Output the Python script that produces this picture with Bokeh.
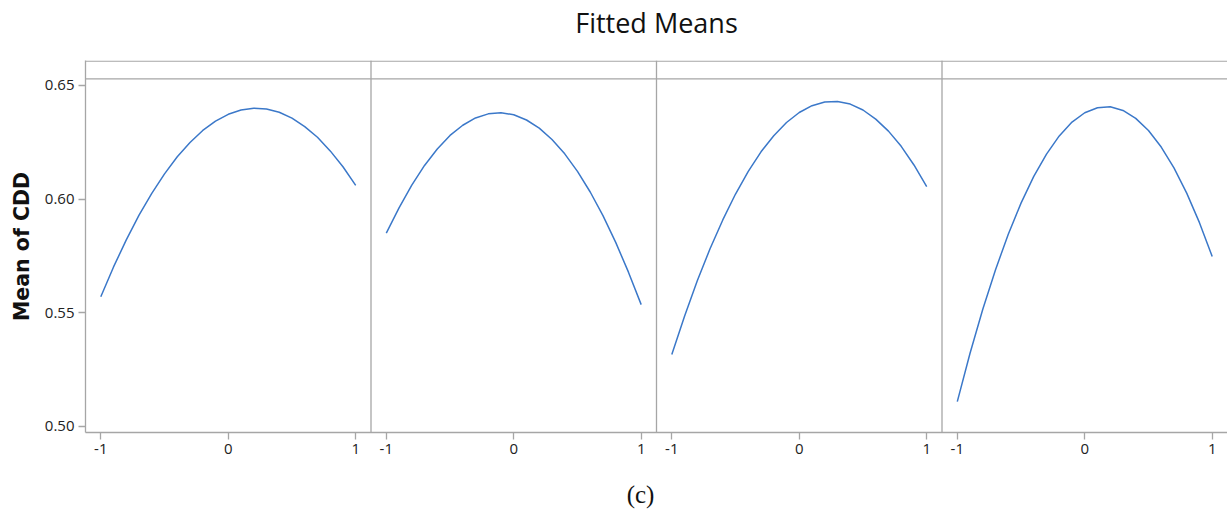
from bokeh.plotting import figure
from bokeh.layouts import column
from bokeh.models import Range1d, FixedTicker, Span, LinearAxis
from bokeh.core.properties import value
from bokeh.embed import file_html
from bokeh.resources import INLINE

# ---- data ----
x_levels = [-1.0, -0.9, -0.8, -0.7, -0.6, -0.5, -0.4, -0.3, -0.2, -0.1, 0.0,
            0.1, 0.2, 0.3, 0.4, 0.5, 0.6, 0.7, 0.8, 0.9, 1.0]
cdd_panel1 = [0.5570, 0.5701, 0.5820, 0.5929, 0.6025, 0.6111, 0.6186, 0.6249, 0.6302, 0.6343, 0.6373,
              0.6392, 0.6400, 0.6396, 0.6382, 0.6356, 0.6319, 0.6272, 0.6212, 0.6142, 0.6060]
cdd_panel2 = [0.5850, 0.5961, 0.6061, 0.6148, 0.6220, 0.6280, 0.6325, 0.6357, 0.6375, 0.6380, 0.6371,
              0.6348, 0.6312, 0.6262, 0.6199, 0.6122, 0.6031, 0.5927, 0.5809, 0.5678, 0.5535]
cdd_panel3 = [0.5315, 0.5484, 0.5640, 0.5781, 0.5908, 0.6022, 0.6122, 0.6208, 0.6279, 0.6337, 0.6381,
              0.6411, 0.6427, 0.6429, 0.6418, 0.6392, 0.6352, 0.6299, 0.6232, 0.6150, 0.6055]
cdd_panel4 = [0.5108, 0.5321, 0.5515, 0.5689, 0.5845, 0.5982, 0.6100, 0.6198, 0.6278, 0.6339, 0.6380,
              0.6402, 0.6406, 0.6390, 0.6355, 0.6302, 0.6229, 0.6137, 0.6026, 0.5896, 0.5747]
panels = [cdd_panel1, cdd_panel2, cdd_panel3, cdd_panel4]

x_tick_values = [-1, 0, 1]
x_tick_labels = ["-1", "0", "1"]
y_tick_values = [0.50, 0.55, 0.60, 0.65]
y_tick_labels = ["0.50", "0.55", "0.60", "0.65"]

title_text = "Fitted Means"
y_label = "Mean of CDD"
caption = "(c)"

# ---- layout ----
half = 1.12          # half width of one panel in x units
step = 2 * half      # panel spacing
grey = "#a6a6a6"
line_blue = "#3b78c9"
ui_font = "Open Sans"
x_lo, x_hi = -half, -half + 4 * step
y_lo, y_hi = 0.4972, 0.6610
px_per_x = 1142 / (x_hi - x_lo)
px_per_y = 372 / (y_hi - y_lo)

p = figure(width=1227, height=478, output_backend="svg", toolbar_location=None,
           x_range=Range1d(x_lo, x_hi),
           y_range=Range1d(y_lo, y_hi),
           min_border_left=85, min_border_right=0, min_border_top=60, min_border_bottom=46)
p.background_fill_color = "white"
p.border_fill_color = "white"
p.outline_line_color = None
p.xgrid.visible = False
p.ygrid.visible = False

# x axis: same -1, 0, 1 ticks repeated in each panel
ticks = []
overrides = {}
for i in range(4):
    off = i * step
    for v, lab in zip(x_tick_values, x_tick_labels):
        t = v + off
        ticks.append(t)
        overrides[t] = lab
p.xaxis.ticker = FixedTicker(ticks=ticks)
p.xaxis.major_label_overrides = overrides

p.yaxis.ticker = FixedTicker(ticks=y_tick_values)
p.yaxis.major_label_overrides = {v: l for v, l in zip(y_tick_values, y_tick_labels)}

for ax in (p.xaxis, p.yaxis):
    ax.axis_line_color = grey
    ax.axis_line_width = 1.3
    ax.major_tick_line_color = grey
    ax.major_tick_line_width = 1.3
    ax.major_tick_in = 0
    ax.major_tick_out = 7
    ax.minor_tick_line_color = None
    ax.major_label_text_font = ui_font
    ax.major_label_text_font_size = "15px"
    ax.major_label_text_color = "#222222"
    ax.major_label_standoff = 4

p.yaxis.axis_label = y_label
p.yaxis.axis_label_text_font = "DejaVu Sans"
p.yaxis.axis_label_text_font_style = "bold"
p.yaxis.axis_label_text_font_size = "20.5px"
p.yaxis.axis_label_text_color = "#111111"
p.yaxis.axis_label_standoff = 8

# chart title carried by a tick-less axis above the frame
top_axis = LinearAxis(ticker=FixedTicker(ticks=[]), axis_line_color=None,
                      major_tick_line_color=None, minor_tick_line_color=None,
                      major_tick_in=0, major_tick_out=0, major_label_text_font_size="0px",
                      axis_label=title_text, axis_label_text_font=ui_font,
                      axis_label_text_font_size="27px", axis_label_text_font_style="normal",
                      axis_label_text_color="#111111", axis_label_standoff=20)
p.add_layout(top_axis, "above")

# top border of the panels, panel separators and header strip line
p.add_layout(Span(location=y_hi - 0.6 / px_per_y, dimension="width",
                  line_color=grey, line_width=1.3))
for i in range(1, 4):
    p.add_layout(Span(location=-half + i * step, dimension="height",
                      line_color=grey, line_width=1.3))
p.add_layout(Span(location=0.6529, dimension="width", line_color=grey, line_width=1.3))

# curves
for i, series in enumerate(panels):
    off = i * step
    p.line([x + off for x in x_levels], series, line_color=line_blue, line_width=1.5)

# caption strip below the chart
cap = figure(width=1227, height=32, output_backend="svg", toolbar_location=None,
             x_range=p.x_range, y_range=Range1d(0, 1),
             min_border_left=85, min_border_right=0, min_border_top=0, min_border_bottom=0)
cap.axis.visible = False
cap.grid.visible = False
cap.outline_line_color = None
cap.background_fill_color = "white"
cap.border_fill_color = "white"
cap.text(x=[x_lo + 555 / px_per_x], y=[0.5], text=[caption],
         text_align="center", text_baseline="middle",
         text_font=value("Liberation Serif"), text_font_size=value("25px"),
         text_color="#111111")

layout = column(p, cap, spacing=0)
open("out.html", "w").write(file_html(layout, INLINE))
